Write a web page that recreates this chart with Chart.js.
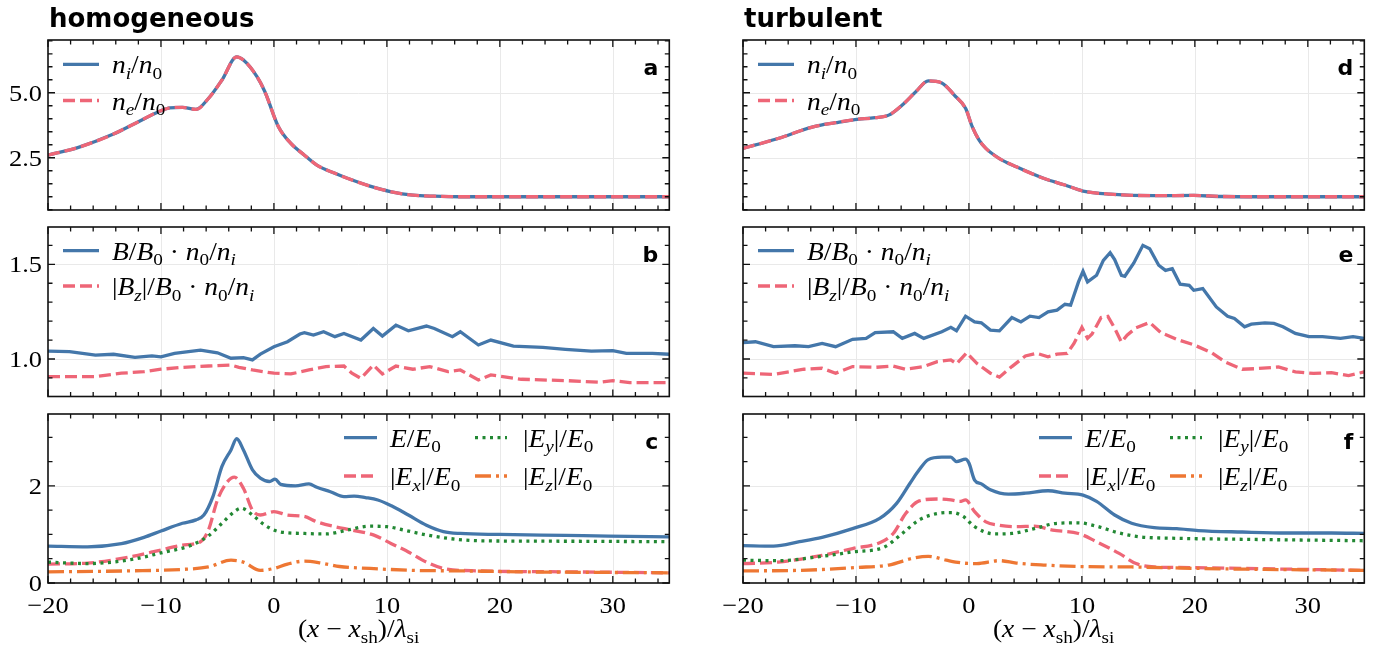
<!DOCTYPE html>
<html>
<head>
<meta charset="utf-8">
<script src="https://cdn.jsdelivr.net/npm/chart.js@4.4.1/dist/chart.umd.min.js"></script>
<style>
  body { margin: 0; background: #fff; }
  #fig { position: relative; width: 1382px; height: 654px; overflow: hidden; }
  #fig canvas { position: absolute; }
</style>
</head>
<body>
<div id="fig">
  <canvas id="pa" width="690" height="219" style="left:0;top:0"></canvas>
  <canvas id="pb" width="690" height="187" style="left:0;top:219px"></canvas>
  <canvas id="pc" width="690" height="248" style="left:0;top:406px"></canvas>
  <canvas id="pd" width="692" height="219" style="left:690px;top:0"></canvas>
  <canvas id="pe" width="692" height="187" style="left:690px;top:219px"></canvas>
  <canvas id="pf" width="692" height="248" style="left:690px;top:406px"></canvas>
</div>
<script>
//---------- data

// x axis
const xMin = -20, xMax = 35;
const xTicks = [-20, -10, 0, 10, 20, 30];
const xTickLabels = ['\u221220', '\u221210', '0', '10', '20', '30'];
const xMinorStep = 2;

// y axes (one per row)
const yTicksN = [2.5, 5.0],  yLabelsN = ['2.5', '5.0'];
const yTicksB = [1.0, 1.5],  yLabelsB = ['1.0', '1.5'];
const yTicksE = [0, 2],      yLabelsE = ['0', '2'];

// a: homogeneous density
const xNHom  = [-20, -17.3, -14.2, -12.3, -10, -9.2, -8.1, -6.9, -5.8, -4.6, -3.3, -2.7, -1.5, -0.8, 0.4, 1.5, 2.7, 3.8, 5.4, 6.5, 8.5, 10.4, 12.3, 14.2, 16.5, 20, 25, 30, 35];
const niHom  = [2.60, 2.90, 3.41, 3.82, 4.31, 4.42, 4.44, 4.36, 4.78, 5.49, 6.38, 6.26, 5.62, 5.04, 3.69, 3.05, 2.60, 2.22, 1.90, 1.71, 1.41, 1.19, 1.06, 1.02, 1.00, 1.00, 1.00, 1.00, 1.00];
const neHom  = [2.60, 2.90, 3.41, 3.82, 4.31, 4.42, 4.44, 4.36, 4.78, 5.49, 6.38, 6.26, 5.62, 5.04, 3.69, 3.05, 2.60, 2.22, 1.90, 1.71, 1.41, 1.19, 1.06, 1.02, 1.00, 1.00, 1.00, 1.00, 1.00];

// d: turbulent density
const xNTurb = [-20, -16.9, -13.8, -11.8, -10.1, -8.3, -7.1, -5.9, -4.7, -3.6, -2.4, -1.3, -0.3, 0.3, 0.9, 1.5, 2.7, 4.2, 6.6, 8.5, 10.1, 12.5, 16.4, 19.9, 22.3, 26, 30, 35];
const niTurb = [2.86, 3.24, 3.69, 3.85, 3.97, 4.04, 4.14, 4.53, 5.04, 5.46, 5.38, 4.91, 4.40, 3.69, 3.18, 2.86, 2.47, 2.15, 1.71, 1.45, 1.22, 1.10, 1.04, 1.05, 1.01, 1.00, 1.00, 1.00];
const neTurb = [2.86, 3.24, 3.69, 3.85, 3.97, 4.04, 4.14, 4.53, 5.04, 5.46, 5.38, 4.91, 4.40, 3.69, 3.18, 2.86, 2.47, 2.15, 1.71, 1.45, 1.22, 1.10, 1.04, 1.05, 1.01, 1.00, 1.00, 1.00];

// b: homogeneous magnetic field
const xBHom  = [-20, -18.1, -15.8, -14.2, -12.3, -10.8, -10, -8.8, -6.5, -5, -3.8, -2.7, -1.9, -1.2, 0, 1.2, 2.3, 2.7, 3.5, 4.4, 5.4, 6.2, 7.7, 8.8, 9.6, 10.8, 11.9, 13.5, 14.2, 15.8, 16.5, 18.1, 19.2, 21.2, 23.8, 25.8, 28.1, 30, 31.2, 33.5, 35];
const bHom   = [1.042, 1.039, 1.021, 1.025, 1.009, 1.016, 1.011, 1.030, 1.047, 1.033, 1.004, 1.007, 0.995, 1.026, 1.065, 1.091, 1.132, 1.139, 1.126, 1.144, 1.118, 1.135, 1.100, 1.161, 1.121, 1.179, 1.149, 1.174, 1.161, 1.118, 1.144, 1.074, 1.100, 1.068, 1.061, 1.051, 1.042, 1.044, 1.030, 1.030, 1.025];
const xBzHom = [-20, -15.8, -13.5, -11.5, -10, -8.1, -5.8, -3.8, -3.1, -1.9, 0, 1.5, 3.1, 4.6, 6.2, 6.9, 7.7, 8.8, 9.6, 10.8, 12.3, 13.8, 15.4, 16.5, 18.1, 19.2, 21.9, 25.8, 28.8, 30, 31.5, 35];
const bzHom  = [0.907, 0.907, 0.925, 0.933, 0.946, 0.956, 0.963, 0.968, 0.956, 0.942, 0.925, 0.921, 0.942, 0.960, 0.963, 0.925, 0.898, 0.968, 0.921, 0.963, 0.946, 0.960, 0.933, 0.942, 0.889, 0.916, 0.893, 0.886, 0.877, 0.886, 0.875, 0.875];

// e: turbulent magnetic field
const xBTurb = [-20, -18.9, -17.3, -15.4, -14.2, -13.0, -11.8, -10.3, -9.1, -8.3, -6.7, -5.9, -4.8, -4.0, -2.4, -1.6, -1.1, -0.3, 0.5, 1.1, 1.9, 2.7, 3.8, 4.6, 5.4, 6.2, 7.0, 7.8, 8.5, 9.0, 9.7, 10.1, 10.5, 11.3, 11.9, 12.5, 12.9, 13.5, 13.8, 14.6, 15.4, 16.0, 16.8, 17.4, 18.0, 18.7, 19.5, 19.9, 20.7, 21.9, 22.9, 23.5, 24.4, 25.0, 26.2, 27.0, 27.8, 28.9, 30.1, 31.3, 32.9, 34.0, 35];
const bTurb  = [1.086, 1.091, 1.065, 1.070, 1.065, 1.082, 1.065, 1.104, 1.109, 1.139, 1.144, 1.109, 1.135, 1.109, 1.144, 1.167, 1.149, 1.226, 1.196, 1.191, 1.153, 1.149, 1.219, 1.196, 1.226, 1.219, 1.249, 1.258, 1.289, 1.284, 1.407, 1.463, 1.407, 1.442, 1.521, 1.561, 1.525, 1.442, 1.437, 1.507, 1.600, 1.582, 1.495, 1.468, 1.477, 1.395, 1.389, 1.363, 1.372, 1.275, 1.226, 1.214, 1.170, 1.184, 1.191, 1.188, 1.170, 1.135, 1.118, 1.118, 1.109, 1.118, 1.109];
const xBzTurb = [-20, -17.3, -14.6, -13.0, -11.8, -10.3, -8.3, -6.7, -5.6, -4.0, -2.8, -1.6, -1.1, -0.2, 0.7, 1.9, 2.7, 3.8, 5.0, 6.0, 7.0, 7.8, 8.7, 9.3, 10.0, 10.5, 10.9, 11.7, 12.3, 12.9, 13.5, 14.0, 14.8, 16.0, 17.0, 18.4, 19.9, 21.5, 22.7, 24.2, 25.4, 27.4, 28.9, 30.5, 32.1, 33.6, 35];
const bzTurb = [0.925, 0.919, 0.946, 0.951, 0.925, 0.960, 0.956, 0.963, 0.946, 0.960, 0.986, 0.995, 0.974, 1.033, 0.977, 0.925, 0.904, 0.960, 1.016, 1.030, 1.012, 1.026, 1.030, 1.082, 1.167, 1.109, 1.132, 1.219, 1.225, 1.163, 1.089, 1.126, 1.165, 1.193, 1.139, 1.104, 1.075, 1.033, 0.984, 0.946, 0.949, 0.958, 0.932, 0.924, 0.928, 0.912, 0.932];

// c: homogeneous electric field
const xEHom  = [-20, -16.5, -13.5, -11.5, -10, -8.1, -6.9, -6.2, -5.4, -4.6, -3.8, -3.3, -2.7, -1.9, -1.2, -0.4, 0.1, 0.6, 1.9, 3.1, 3.8, 5.0, 6.2, 7.1, 8.1, 9.2, 10.4, 11.9, 13.5, 15.0, 16.5, 20, 25.8, 29.6, 35];
const eHom   = [0.76, 0.745, 0.81, 0.94, 1.07, 1.23, 1.30, 1.40, 1.78, 2.40, 2.74, 2.97, 2.74, 2.33, 2.16, 2.09, 2.14, 2.03, 2.00, 2.04, 1.97, 1.88, 1.78, 1.79, 1.76, 1.71, 1.59, 1.40, 1.19, 1.06, 1.02, 1.00, 0.98, 0.966, 0.95];
const xExHom = [-20, -16.5, -12.7, -10, -8.1, -6.5, -5.8, -5.0, -4.2, -3.5, -2.7, -1.9, -1.2, 0, 1.2, 2.7, 3.8, 5.4, 6.9, 8.8, 10.4, 11.9, 13.5, 15.0, 18.1, 25.8, 35];
const exHom  = [0.39, 0.41, 0.54, 0.68, 0.78, 0.85, 1.09, 1.71, 2.06, 2.18, 1.95, 1.50, 1.40, 1.47, 1.40, 1.37, 1.26, 1.16, 1.09, 0.99, 0.81, 0.64, 0.43, 0.30, 0.25, 0.23, 0.21];
const xEyHom = [-20, -16.5, -12.7, -10, -7.3, -5.8, -4.6, -3.5, -2.9, -1.9, -0.8, 0.4, 2.7, 4.6, 6.5, 8.5, 10, 11.5, 13.5, 15.4, 18.1, 25.8, 35];
const eyHom  = [0.43, 0.40, 0.48, 0.62, 0.78, 0.97, 1.23, 1.47, 1.54, 1.40, 1.19, 1.06, 1.02, 1.01, 1.09, 1.17, 1.16, 1.09, 0.99, 0.92, 0.87, 0.86, 0.85];
const xEzHom = [-20, -12.7, -8.1, -5.8, -3.8, -2.7, -1.2, 0, 1.2, 2.7, 4.2, 5.8, 8.5, 12.3, 16.2, 21.9, 35];
const ezHom  = [0.23, 0.25, 0.28, 0.33, 0.47, 0.43, 0.26, 0.30, 0.39, 0.45, 0.41, 0.34, 0.30, 0.26, 0.25, 0.23, 0.21];

// f: turbulent electric field
const xETurb  = [-20, -17.3, -15.0, -13.0, -10.3, -7.9, -6.4, -5.2, -4.4, -3.6, -2.4, -1.6, -1.1, -0.3, 0, 0.5, 1.1, 1.9, 3.5, 5.0, 7.0, 8.5, 10.1, 11.3, 12.9, 14.4, 16.4, 18.4, 20.3, 24.2, 28.2, 32.1, 35];
const eTurb   = [0.77, 0.76, 0.85, 0.94, 1.12, 1.33, 1.64, 2.06, 2.33, 2.54, 2.59, 2.59, 2.50, 2.55, 2.47, 2.12, 2.04, 1.92, 1.83, 1.85, 1.90, 1.85, 1.81, 1.68, 1.40, 1.23, 1.14, 1.12, 1.08, 1.05, 1.03, 1.03, 1.02];
const xExTurb = [-20, -16.9, -13.0, -10.3, -7.9, -6.7, -5.6, -4.4, -2.8, -1.6, -0.8, -0.3, 0.5, 1.5, 2.7, 4.2, 5.8, 7.4, 9.7, 11.3, 13.3, 14.8, 16.4, 18.4, 24.2, 35];
const exTurb  = [0.40, 0.43, 0.57, 0.71, 0.83, 1.02, 1.43, 1.69, 1.73, 1.71, 1.68, 1.71, 1.47, 1.26, 1.19, 1.16, 1.17, 1.09, 1.02, 0.85, 0.61, 0.40, 0.33, 0.32, 0.30, 0.26];
const xEyTurb = [-20, -16.9, -13.0, -10.3, -7.5, -5.9, -4.4, -2.8, -1.5, -0.5, 0.5, 2.3, 3.8, 5.8, 7.8, 9.7, 11.3, 13.3, 15.2, 18.4, 24.2, 35];
const eyTurb  = [0.47, 0.46, 0.55, 0.64, 0.74, 1.02, 1.30, 1.43, 1.45, 1.37, 1.16, 1.01, 1.02, 1.12, 1.23, 1.24, 1.17, 1.03, 0.95, 0.92, 0.90, 0.87];
const xEzTurb = [-20, -15.0, -9.9, -7.1, -4.8, -3.6, -2.0, -0.5, 0.7, 2.7, 4.2, 6.6, 9.7, 14.4, 20.3, 26.2, 35];
const ezTurb  = [0.25, 0.26, 0.32, 0.37, 0.52, 0.55, 0.47, 0.41, 0.40, 0.46, 0.41, 0.37, 0.34, 0.33, 0.30, 0.28, 0.26];

//---------- styles
const BLUE = '#4477AA', PINK = '#EE6677', GREEN = '#228833', ORANGE = '#EE7733';
const SOLID = [], DASH = [12, 5], DOT = [3, 4.5], DASHDOT = [16, 5, 3, 5];
const SERIF = '"Liberation Serif", "DejaVu Serif", serif';
const SANS = '"DejaVu Sans", sans-serif';
const SX = 1.1; // serif text is a bit wider in the original
const LW = 3.3;

// math-ish labels: [text, flags] with i = italic, s = subscript
const I = t => [t, 'i'], R = t => [t, ''], S = t => [t, 's'], SI = t => [t, 'is'];
const lblNi = [I('n'), SI('i'), R('/'), I('n'), S('0')];
const lblNe = [I('n'), SI('e'), R('/'), I('n'), S('0')];
const lblB  = [I('B'), R('/'), I('B'), S('0'), R(' \u00b7 '), I('n'), S('0'), R('/'), I('n'), SI('i')];
const lblBz = [R('|'), I('B'), SI('z'), R('|/'), I('B'), S('0'), R(' \u00b7 '), I('n'), S('0'), R('/'), I('n'), SI('i')];
const lblE  = [I('E'), R('/'), I('E'), S('0')];
const lblEx = [R('|'), I('E'), SI('x'), R('|/'), I('E'), S('0')];
const lblEy = [R('|'), I('E'), SI('y'), R('|/'), I('E'), S('0')];
const lblEz = [R('|'), I('E'), SI('z'), R('|/'), I('E'), S('0')];
const xTitle = [R('('), I('x'), R(' \u2212 '), I('x'), S('sh'), R(')/'), I('\u03bb'), S('si')];

function richText(ctx, parts, x, y, size, align) {
  const font = f => (f.includes('i') ? 'italic ' : '') + (f.includes('s') ? size * 0.7 : size) + 'px ' + SERIF;
  let w = 0;
  parts.forEach(([t, f]) => { ctx.font = font(f); w += ctx.measureText(t).width; });
  let x0 = x;
  if (align === 'center') x0 = x - w * SX / 2;
  if (align === 'right') x0 = x - w * SX;
  ctx.save();
  ctx.translate(x0, y);
  ctx.scale(SX, 1);
  ctx.fillStyle = '#000';
  ctx.textAlign = 'left';
  ctx.textBaseline = 'alphabetic';
  let cx = 0;
  parts.forEach(([t, f]) => {
    ctx.font = font(f);
    ctx.fillText(t, cx, f.includes('s') ? size * 0.22 : 0);
    cx += ctx.measureText(t).width;
  });
  ctx.restore();
}

function series(xs, ys, color, dash, order, label, smooth) {
  return {
    data: xs.map((x, i) => ({ x: x, y: ys[i] })),
    borderColor: color,
    borderDash: dash,
    borderWidth: LW,
    pointRadius: 0,
    fill: false,
    order: order,
    tension: 0,
    cubicInterpolationMode: smooth ? 'monotone' : 'default',
    mathLabel: label
  };
}

// decorations: grid, inward ticks on all sides, frame, labels, legend
function deco(cfg) {
  return {
    id: 'deco',
    beforeDatasetsDraw(chart) {
      const { ctx, chartArea: a, scales: { x, y } } = chart;
      ctx.save();
      ctx.strokeStyle = '#e9e9e9';
      ctx.lineWidth = 1;
      ctx.beginPath();
      xTicks.forEach(v => {
        const p = Math.round(x.getPixelForValue(v)) + 0.5;
        if (p > a.left + 2 && p < a.right - 2) { ctx.moveTo(p, a.top); ctx.lineTo(p, a.bottom); }
      });
      cfg.yTicks.forEach(v => {
        const p = Math.round(y.getPixelForValue(v)) + 0.5;
        if (p > a.top + 2 && p < a.bottom - 2) { ctx.moveTo(a.left, p); ctx.lineTo(a.right, p); }
      });
      ctx.stroke();
      ctx.restore();
    },
    afterDatasetsDraw(chart) {
      const { ctx, chartArea: a, scales: { x, y } } = chart;
      ctx.save();
      // ticks
      ctx.strokeStyle = '#111';
      ctx.lineWidth = 1.3;
      ctx.beginPath();
      for (let v = xMin; v <= xMax; v += xMinorStep) {
        const p = x.getPixelForValue(v);
        const len = xTicks.includes(v) ? 7 : 4.5;
        ctx.moveTo(p, a.bottom); ctx.lineTo(p, a.bottom - len);
        ctx.moveTo(p, a.top); ctx.lineTo(p, a.top + len);
      }
      for (let k = Math.ceil(y.min / cfg.yMinor - 1e-6); k * cfg.yMinor <= y.max + 1e-9; k++) {
        const v = +(k * cfg.yMinor).toFixed(4);
        const p = y.getPixelForValue(v);
        const len = cfg.yTicks.some(t => Math.abs(t - v) < 1e-6) ? 7 : 4.5;
        ctx.moveTo(a.left, p); ctx.lineTo(a.left + len, p);
        ctx.moveTo(a.right, p); ctx.lineTo(a.right - len, p);
      }
      ctx.stroke();
      // frame
      ctx.lineWidth = 1.6;
      ctx.strokeRect(a.left, a.top, a.right - a.left, a.bottom - a.top);

      // tick labels
      if (cfg.showY) {
        cfg.yTicks.forEach((v, i) => richText(ctx, [R(cfg.yLabels[i])], a.left - 6, y.getPixelForValue(v) + 8, 24, 'right'));
      }
      if (cfg.showX) {
        xTicks.forEach((v, i) => richText(ctx, [R(xTickLabels[i])], x.getPixelForValue(v), a.bottom + 30, 24, 'center'));
        richText(ctx, xTitle, (a.left + a.right) / 2, a.bottom + 54, 25, 'center');
      }

      // legend
      const ds = chart.data.datasets;
      cfg.legend.forEach(it => {
        const d = ds[it.ds];
        const yy = a.top + it.y;
        ctx.strokeStyle = d.borderColor;
        ctx.lineWidth = LW;
        ctx.setLineDash(d.borderDash);
        ctx.beginPath();
        ctx.moveTo(a.left + it.h0, yy);
        ctx.lineTo(a.left + it.h1, yy);
        ctx.stroke();
        ctx.setLineDash([]);
        richText(ctx, d.mathLabel, a.left + it.t, yy + 9, 25, 'left');
      });

      // panel letter
      ctx.fillStyle = '#000';
      ctx.font = 'bold 22px ' + SANS;
      ctx.textAlign = 'right';
      ctx.textBaseline = 'alphabetic';
      ctx.fillText(cfg.letter, a.right - 11, a.top + 35);

      // column title
      if (cfg.title) {
        ctx.font = 'bold 26px ' + SANS;
        ctx.textAlign = 'left';
        ctx.fillText(cfg.title, a.left + 1, a.top - 13.3);
      }
      ctx.restore();
    }
  };
}

function makePanel(id, pad, yMin, yMax, cfg, datasets) {
  return new Chart(document.getElementById(id), {
    type: 'line',
    data: { datasets: datasets },
    options: {
      responsive: false,
      animation: false,
      devicePixelRatio: 1,
      events: [],
      layout: { padding: pad },
      plugins: { legend: { display: false }, tooltip: { enabled: false } },
      scales: {
        x: { type: 'linear', display: false, min: xMin, max: xMax },
        y: { type: 'linear', display: false, min: yMin, max: yMax }
      }
    },
    plugins: [deco(cfg)]
  });
}

// legend layouts (offsets from the plot box corner)
const legTwoRows = (y1, y2) => [
  { ds: 0, h0: 15, h1: 51, t: 64, y: y1 },
  { ds: 1, h0: 15, h1: 51, t: 64, y: y2 }
];
const legE = [
  { ds: 0, h0: 296, h1: 329, t: 342, y: 23.7 },
  { ds: 1, h0: 296, h1: 329, t: 342, y: 62 },
  { ds: 2, h0: 427, h1: 459, t: 475, y: 23.7 },
  { ds: 3, h0: 427, h1: 459, t: 475, y: 62 }
];

const padL = { left: 48, right: 20.7 }, padR = { left: 53, right: 17.7 };
const padA = { top: 40, bottom: 9 }, padB = { top: 8, bottom: 9.5 }, padC = { top: 8, bottom: 71 };

// homogeneous column
makePanel('pa', Object.assign({}, padL, padA), 0.49, 7.03,
  { yTicks: yTicksN, yLabels: yLabelsN, yMinor: 0.5, showY: true, showX: false, letter: 'a', title: 'homogeneous', legend: legTwoRows(24.3, 60.5) },
  [series(xNHom, niHom, BLUE, SOLID, 2, lblNi, true), series(xNHom, neHom, PINK, DASH, 1, lblNe, true)]);
makePanel('pb', Object.assign({}, padL, padB), 0.802, 1.697,
  { yTicks: yTicksB, yLabels: yLabelsB, yMinor: 0.1, showY: true, showX: false, letter: 'b', legend: legTwoRows(23.7, 59) },
  [series(xBHom, bHom, BLUE, SOLID, 2, lblB, false), series(xBzHom, bzHom, PINK, DASH, 1, lblBz, false)]);
makePanel('pc', Object.assign({}, padL, padC), 0, 3.48,
  { yTicks: yTicksE, yLabels: yLabelsE, yMinor: 0.5, showY: true, showX: true, letter: 'c', legend: legE },
  [series(xEHom, eHom, BLUE, SOLID, 4, lblE, true), series(xExHom, exHom, PINK, DASH, 3, lblEx, true),
   series(xEyHom, eyHom, GREEN, DOT, 2, lblEy, true), series(xEzHom, ezHom, ORANGE, DASHDOT, 1, lblEz, true)]);

// turbulent column
makePanel('pd', Object.assign({}, padR, padA), 0.49, 7.03,
  { yTicks: yTicksN, yLabels: yLabelsN, yMinor: 0.5, showY: false, showX: false, letter: 'd', title: 'turbulent', legend: legTwoRows(24.3, 60.5) },
  [series(xNTurb, niTurb, BLUE, SOLID, 2, lblNi, true), series(xNTurb, neTurb, PINK, DASH, 1, lblNe, true)]);
makePanel('pe', Object.assign({}, padR, padB), 0.802, 1.697,
  { yTicks: yTicksB, yLabels: yLabelsB, yMinor: 0.1, showY: false, showX: false, letter: 'e', legend: legTwoRows(23.7, 59) },
  [series(xBTurb, bTurb, BLUE, SOLID, 2, lblB, false), series(xBzTurb, bzTurb, PINK, DASH, 1, lblBz, false)]);
makePanel('pf', Object.assign({}, padR, padC), 0, 3.48,
  { yTicks: yTicksE, yLabels: yLabelsE, yMinor: 0.5, showY: false, showX: true, letter: 'f', legend: legE },
  [series(xETurb, eTurb, BLUE, SOLID, 4, lblE, true), series(xExTurb, exTurb, PINK, DASH, 3, lblEx, true),
   series(xEyTurb, eyTurb, GREEN, DOT, 2, lblEy, true), series(xEzTurb, ezTurb, ORANGE, DASHDOT, 1, lblEz, true)]);
</script>
</body>
</html>
